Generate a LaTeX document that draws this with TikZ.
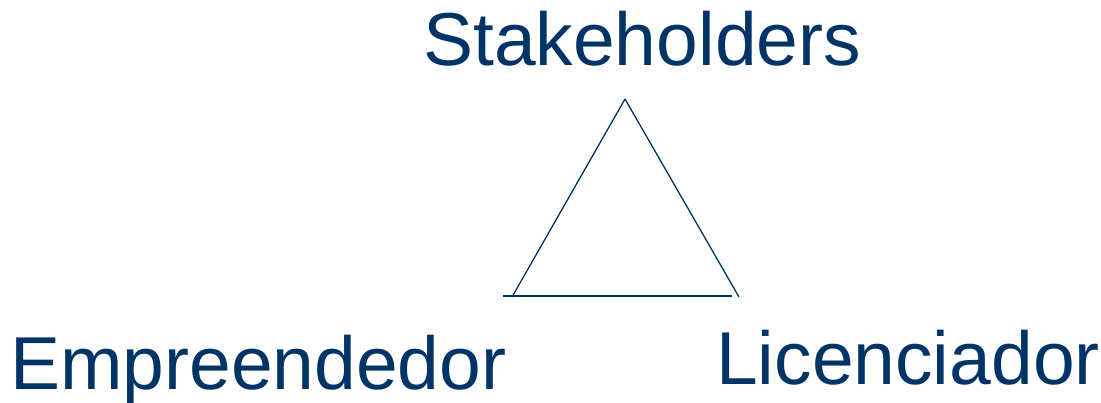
\documentclass[tikz,border=0pt]{standalone}
\usepackage{fontspec}
\setmainfont{Liberation Sans}
\definecolor{navy}{HTML}{003366}
\begin{document}
\begin{tikzpicture}[x=1pt,y=-1pt,
    label/.style={inner sep=0pt,anchor=base west,text=navy,font=\fontsize{75}{80}\selectfont},
    edge/.style={draw=navy,line width=1.3pt}]
    \useasboundingbox (0,0) rectangle (1101,402);
    % labels
    \node[label] (stake) at (423,65) {Stakeholders};
    \node[label] (empre) at (10,389) {Empreendedor};
    \node[label] (licen) at (716,384) {Licenciador};
    % corners
    \coordinate (top) at (625,99);
    \coordinate (footL) at (512,297);
    \coordinate (footR) at (739,297);
    \coordinate (baseL) at (503,296);
    \coordinate (baseR) at (732,296);
    % sides
    \draw[edge] (top) -- (footL);
    \draw[edge] (top) -- (footR);
    \draw[edge] (baseL) -- (baseR);
\end{tikzpicture}
\end{document}
